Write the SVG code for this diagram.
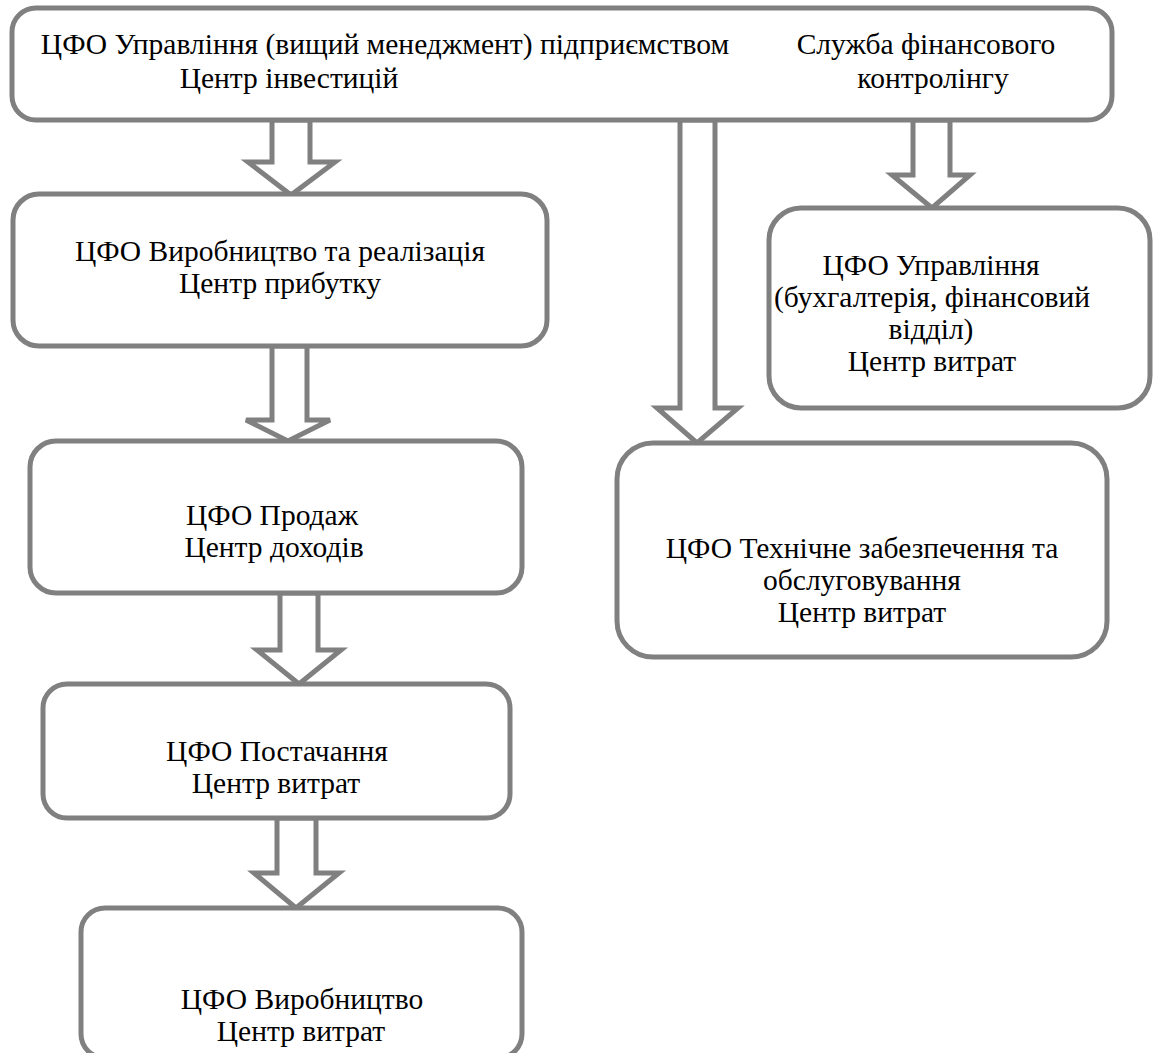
<svg xmlns="http://www.w3.org/2000/svg" width="1153" height="1053" viewBox="0 0 1153 1053" font-family="'Liberation Serif', 'Times New Roman', 'DejaVu Serif', serif">
<style>
.box{fill:#ffffff;stroke:#808080;stroke-width:5}
.arr{fill:#ffffff;stroke:#808080;stroke-width:5;stroke-linejoin:miter}
.t{font-family:'Liberation Serif','Times New Roman','DejaVu Serif',serif;font-size:29.5px;fill:#000000;text-anchor:middle}
</style>
<rect width="1153" height="1053" fill="#ffffff"/>
<g id="connectors">
<polygon class="arr" points="272,120 310,120 310,162 335,162 291,195 248,162 272,162"/>
<polygon class="arr" points="272,346 307,346 307,420 330,420 288,441 246,420 272,420"/>
<polygon class="arr" points="280,593 318,593 318,650 341,650 299,684 257,650 280,650"/>
<polygon class="arr" points="277,818 316,818 316,873 339,873 296,908 254,873 277,873"/>
<polygon class="arr" points="680,120 715,120 715,408 738,408 697,443 657,408 680,408"/>
<polygon class="arr" points="913,120 950,120 950,175 970,175 932,208 892,175 913,175"/>
</g>
<g id="top">
<rect class="box" x="12" y="8" width="1100" height="112" rx="24"/>
<text class="t" x="385" y="54">ЦФО Управління (вищий менеджмент) підприємством</text>
<text class="t" x="289" y="88">Центр інвестицій</text>
<text class="t" x="926" y="54">Служба фінансового</text>
<text class="t" x="933" y="88">контролінгу</text>
</g>
<g id="n-vyrob-real">
<rect class="box" x="13" y="194" width="534" height="152" rx="26"/>
<text class="t" x="280" y="261">ЦФО Виробництво та реалізація</text>
<text class="t" x="280" y="293">Центр прибутку</text>
</g>
<g id="n-prodazh">
<rect class="box" x="30" y="441" width="492" height="152" rx="26"/>
<text class="t" x="272" y="525">ЦФО Продаж</text>
<text class="t" x="274" y="557">Центр доходів</text>
</g>
<g id="n-postach">
<rect class="box" x="43" y="684" width="467" height="134" rx="24"/>
<text class="t" x="277" y="761">ЦФО Постачання</text>
<text class="t" x="276" y="793">Центр витрат</text>
</g>
<g id="n-vyrob">
<rect class="box" x="81" y="908" width="441" height="150" rx="24"/>
<text class="t" x="302" y="1009">ЦФО Виробництво</text>
<text class="t" x="301" y="1041">Центр витрат</text>
</g>
<g id="n-tech">
<rect class="box" x="617" y="443" width="490" height="214" rx="36"/>
<text class="t" x="862" y="558">ЦФО Технічне забезпечення та</text>
<text class="t" x="862" y="590">обслуговування</text>
<text class="t" x="862" y="622">Центр витрат</text>
</g>
<g id="n-fin">
<rect class="box" x="769" y="208" width="381" height="200" rx="32"/>
<text class="t" x="931" y="275">ЦФО Управління</text>
<text class="t" x="932" y="307">(бухгалтерія, фінансовий</text>
<text class="t" x="931" y="339">відділ)</text>
<text class="t" x="932" y="371">Центр витрат</text>
</g>
</svg>
